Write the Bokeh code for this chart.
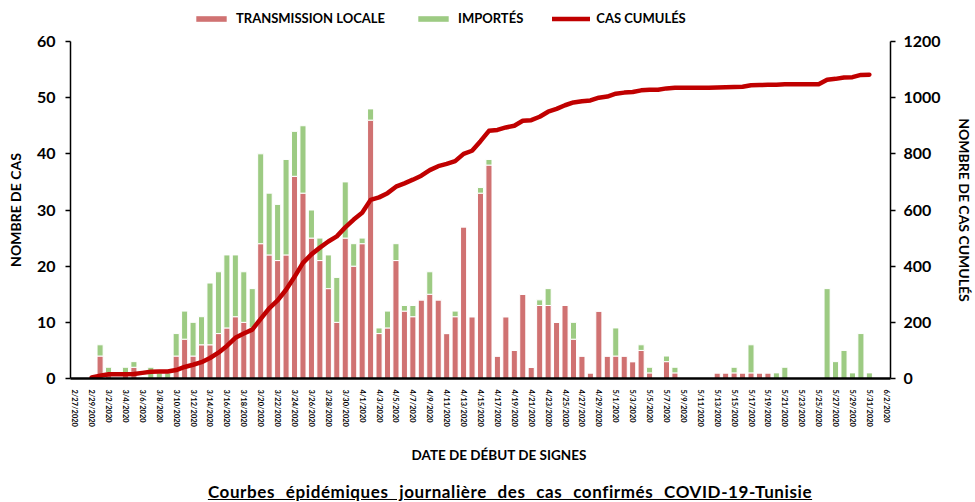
import math
import numpy as np
import pandas as pd
from bokeh.plotting import figure
from bokeh.layouts import column
from bokeh.models import (ColumnDataSource, LinearAxis, Range1d, FixedTicker,
                          Legend, LegendItem, Title, Div)
from bokeh.embed import file_html
from bokeh.resources import INLINE

# ---- data -------------------------------------------------------------
dates = [f"{d.month}/{d.day}/{d.year}" for d in pd.date_range("2020-02-27", "2020-06-02")]

local = [0, 0, 0, 4, 1, 0, 1, 2, 0, 0,
         0, 0, 4, 7, 4, 6, 6, 8, 9, 11,
         10, 9, 24, 22, 21, 22, 36, 33, 25, 21,
         16, 10, 25, 20, 24, 46, 8, 9, 21, 12,
         11, 14, 15, 14, 8, 11, 27, 11, 33, 38,
         4, 11, 5, 15, 2, 13, 13, 10, 13, 7,
         4, 1, 12, 4, 4, 4, 3, 5, 1, 0,
         3, 1, 0, 0, 0, 0, 1, 1, 1, 1,
         1, 1, 1, 0, 0, 0, 0, 0, 0, 0,
         0, 0, 0, 0, 0, 0, 0]

imported = [0, 0, 0, 2, 1, 0, 1, 1, 0, 2,
            1, 1, 4, 5, 6, 5, 11, 11, 13, 11,
            9, 7, 16, 11, 10, 17, 8, 12, 5, 4,
            6, 8, 10, 4, 1, 2, 1, 3, 3, 1,
            2, 0, 4, 0, 0, 1, 0, 0, 1, 1,
            0, 0, 0, 0, 0, 1, 3, 0, 0, 3,
            0, 0, 0, 0, 5, 0, 0, 1, 1, 0,
            1, 1, 0, 0, 0, 0, 0, 0, 1, 0,
            5, 0, 0, 1, 2, 0, 0, 0, 0, 16,
            3, 5, 1, 8, 1, 0, 0]

cumulative = [None, None, 4, 10, 15, 15, 15, 16, 20, 24,
              25, 25, 30, 41, 49, 58, 73, 92, 116, 145,
              160, 174, 212, 250, 278, 316, 362, 412, 442, 466,
              488, 506, 538, 566, 590, 636, 645, 660, 683, 695,
              708, 722, 742, 756, 764, 774, 800, 811, 845, 882,
              885, 894, 900, 918, 920, 932, 950, 960, 973, 983,
              987, 990, 1000, 1004, 1014, 1018, 1020, 1026, 1028, 1028,
              1033, 1035, 1035, 1035, 1035, 1035, 1036, 1037, 1038, 1039,
              1044, 1045, 1046, 1046, 1048, 1048, 1048, 1048, 1048, 1064,
              1067, 1072, 1073, 1081, 1082, None, None]

left_ticks = [0, 10, 20, 30, 40, 50, 60]
right_ticks = [0, 200, 400, 600, 800, 1000, 1200]

series_names = ["TRANSMISSION LOCALE", "IMPORTÉS", "CAS CUMULÉS"]
y_left_title = "NOMBRE DE CAS"
y_right_title = "NOMBRE DE CAS CUMULÉS"
x_title = "DATE DE DÉBUT DE SIGNES"
chart_title = "Courbes épidémiques journalière des cas confirmés COVID-19-Tunisie"

# ---- styles -----------------------------------------------------------
RED = "#D07272"
GREEN = "#9DCB83"
LINE = "#C00000"
FONT = "Lato"
W = 975
LEG_H = 30
TITLE_H = 20
MAIN_H = 502 - LEG_H - TITLE_H

idx = list(range(len(dates)))
src = ColumnDataSource(dict(
    x=idx, local=local, imported=imported,
    cum=[np.nan if v is None else v for v in cumulative]))

# ---- main chart -------------------------------------------------------
p = figure(width=W, height=MAIN_H,
           x_range=Range1d(-0.5, len(dates) - 0.5),
           y_range=Range1d(left_ticks[0], left_ticks[-1]),
           output_backend="svg", toolbar_location=None,
           min_border_left=70, min_border_right=84,
           min_border_top=11, min_border_bottom=MAIN_H - 378 + LEG_H)
p.extra_y_ranges = {"cum": Range1d(right_ticks[0], right_ticks[-1])}
p.xgrid.grid_line_color = None
p.ygrid.grid_line_color = None
p.outline_line_color = None
p.background_fill_color = "white"
p.border_fill_color = "white"

bars = p.vbar_stack(["local", "imported"], x="x", width=0.72, source=src,
                    color=[RED, GREEN], line_color="white", line_width=1)
ln = p.line("x", "cum", source=src, y_range_name="cum", line_color=LINE,
            line_width=4.5, line_join="round", line_cap="round")

xa = p.xaxis[0]
xa.ticker = FixedTicker(ticks=idx[::2])
xa.major_label_overrides = {i: dates[i] for i in idx[::2]}
xa.major_label_orientation = "vertical"
xa.major_label_text_font = FONT
xa.major_label_text_font_style = "bold"
xa.major_label_text_font_size = "7.5px"
xa.major_label_text_color = "black"
xa.major_tick_line_color = None
xa.minor_tick_line_color = None
xa.axis_line_color = "black"
xa.axis_line_width = 2.5
xa.major_label_standoff = 5

ya = p.yaxis[0]
ya.ticker = FixedTicker(ticks=left_ticks)
ya.axis_label = y_left_title

ra = LinearAxis(y_range_name="cum", ticker=FixedTicker(ticks=right_ticks),
                axis_label=y_right_title)
p.add_layout(ra, "right")
try:
    ra.axis_label_orientation = "vertical"
except Exception:
    pass

for ax in (ya, ra):
    ax.major_label_text_font = FONT
    ax.major_label_text_font_style = "bold"
    ax.major_label_text_font_size = "16px"
    ax.major_label_text_color = "black"
    ax.axis_label_text_font = FONT
    ax.axis_label_text_font_style = "bold"
    ax.axis_label_text_font_size = "14px"
    ax.axis_label_text_color = "black"
    ax.minor_tick_line_color = None
    ax.major_tick_in = 0
    ax.major_tick_out = 5
    ax.major_tick_line_width = 1.5
    ax.axis_line_width = 1.5
    ax.axis_line_color = "black"
    ax.major_tick_line_color = "black"
ya.major_label_standoff = 10
ya.axis_label_standoff = 10
ra.major_label_standoff = 8
ra.axis_label_standoff = 12

t1 = Title(text=x_title, align="left", offset=341, text_font=FONT,
           text_font_style="bold", text_font_size="13.5px", text_color="black",
           standoff=31)
p.add_layout(t1, "below")

# ---- legend strip above the chart --------------------------------------
lf = figure(width=W, height=LEG_H, x_range=Range1d(0, 1), y_range=Range1d(0, 1),
            output_backend="svg", toolbar_location=None,
            x_axis_location=None, y_axis_location=None,
            min_border=0, min_border_left=0, min_border_right=0,
            min_border_top=0, min_border_bottom=0)
lf.xgrid.grid_line_color = None
lf.ygrid.grid_line_color = None
lf.outline_line_color = None
# one hidden point per key (outside the visible range) so the keys draw
key_src = ColumnDataSource(dict(x=[5], y=[5]))
r_loc = lf.rect("x", "y", width=1, height=1, source=key_src, fill_color=RED,
                line_color=None)
r_imp = lf.rect("x", "y", width=1, height=1, source=key_src, fill_color=GREEN,
                line_color=None)
r_cum = lf.line("x", "y", source=key_src, line_color=LINE, line_width=4.5,
                line_cap="round")
legend = Legend(items=[LegendItem(label=series_names[0], renderers=[r_loc]),
                       LegendItem(label=series_names[1], renderers=[r_imp]),
                       LegendItem(label=series_names[2], renderers=[r_cum])],
                orientation="horizontal", location=(122, 4),
                glyph_width=38, glyph_height=7, label_standoff=6, spacing=29,
                padding=0, margin=0, border_line_color=None,
                background_fill_alpha=0, label_text_font=FONT,
                label_text_font_style="bold", label_text_font_size="13px",
                label_text_color="black", label_height=16)
lf.add_layout(legend, "center")

# ---- chart title, underlined ------------------------------------------
div = Div(text=(f'<div style="width:{W}px;text-align:center;padding-left:45px;'
                f'box-sizing:border-box;font-family:Lato;font-weight:bold;'
                f'font-size:17px;line-height:20px;letter-spacing:0.6px;'
                f'word-spacing:6px;text-decoration:underline;'
                f'color:black;">{chart_title}</div>'),
          width=W, height=TITLE_H, margin=0)

layout = column(lf, p, div, spacing=0)
open("out.html", "w").write(file_html(layout, INLINE))
